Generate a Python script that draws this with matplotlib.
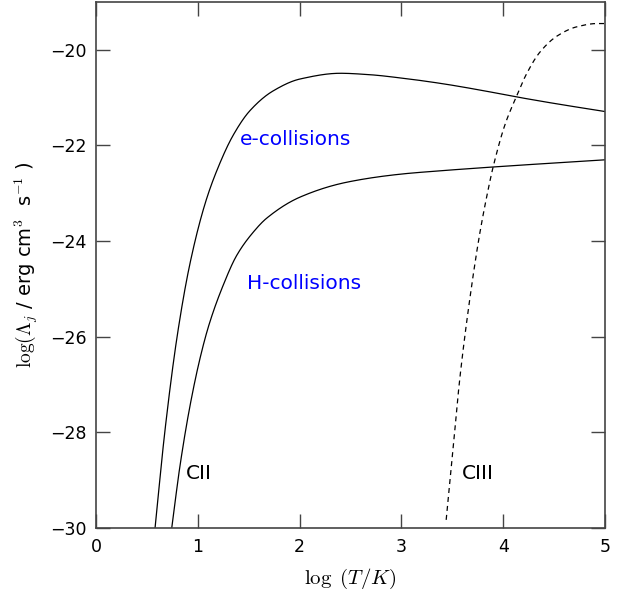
import matplotlib
matplotlib.use("Agg")
import matplotlib.pyplot as plt
import numpy as np

plt.rcParams['mathtext.fontset'] = 'cm'
plt.rcParams['font.family'] = ['DejaVu Sans']

# e-collisions (CII), solid
e_x = [0.58, 0.678, 0.80, 0.923, 1.071, 1.186, 1.349, 1.513, 1.739, 2.004, 2.40, 2.69, 3.0, 3.38, 3.77, 4.12, 4.5, 5.0]
e_y = [-30.0, -27.95, -25.95, -24.47, -23.22, -22.53, -21.78, -21.27, -20.86, -20.61, -20.49, -20.52, -20.59, -20.70, -20.84, -20.98, -21.12, -21.29]

# H-collisions (CII), solid
h_x = [0.744, 0.825, 0.923, 1.022, 1.11, 1.25, 1.382, 1.55, 1.677, 2.004, 2.46, 2.99, 3.38, 3.90, 5.0]
h_y = [-30.0, -28.7, -27.45, -26.45, -25.75, -24.92, -24.30, -23.80, -23.52, -23.08, -22.77, -22.60, -22.53, -22.45, -22.30]

# CIII, dashed
c3_x = [3.44, 3.51, 3.57, 3.67, 3.77, 3.84, 3.90, 4.02, 4.125, 4.23, 4.36, 4.53, 4.72, 4.92, 5.0]
c3_y = [-29.83, -28.3, -26.95, -25.24, -23.84, -23.05, -22.46, -21.55, -21.0, -20.5, -20.05, -19.71, -19.52, -19.45, -19.45]

x_ticks = [0, 1, 2, 3, 4, 5]
y_ticks = [-30, -28, -26, -24, -22, -20]


def pchip(x, y, n=2000):
    x = np.asarray(x, float); y = np.asarray(y, float)
    h = np.diff(x); d = np.diff(y) / h
    m = np.zeros_like(y)
    for k in range(1, len(x) - 1):
        if d[k - 1] * d[k] > 0:
            w1 = 2 * h[k] + h[k - 1]; w2 = h[k] + 2 * h[k - 1]
            m[k] = (w1 + w2) / (w1 / d[k - 1] + w2 / d[k])
    m[0] = d[0]; m[-1] = d[-1]
    xx = np.linspace(x[0], x[-1], n)
    idx = np.clip(np.searchsorted(x, xx) - 1, 0, len(x) - 2)
    t = (xx - x[idx]) / h[idx]
    h00 = 2 * t**3 - 3 * t**2 + 1; h10 = t**3 - 2 * t**2 + t
    h01 = -2 * t**3 + 3 * t**2; h11 = t**3 - t**2
    yy = h00 * y[idx] + h10 * h[idx] * m[idx] + h01 * y[idx + 1] + h11 * h[idx] * m[idx + 1]
    return xx, yy


fig = plt.figure(figsize=(6.21, 5.97), dpi=100)
ax = fig.add_axes([0.1546, 0.1156, 0.8196, 0.881])

for xs, ys, ls in [(e_x, e_y, '-'), (h_x, h_y, '-'), (c3_x, c3_y, (0, (4, 3.2)))]:
    sx, sy = pchip(xs, ys)
    ax.plot(sx, sy, color='black', lw=0.9, ls=ls)

ax.set_xlim(0, 5)
ax.set_ylim(-30, -19)
ax.set_xticks(x_ticks)
ax.set_yticks(y_ticks)
ax.tick_params(direction='in', length=10, width=1, top=True, right=True,
               labelsize=12.5, colors='black', pad=7)
for sp in ax.spines.values():
    sp.set_color('#444444')
    sp.set_linewidth(1.2)
ax.tick_params(axis='both', color='#444444')

ax.text(1.41, -21.87, 'e-collisions', color='blue', fontsize=14.5, va='center', ha='left')
ax.text(1.48, -24.88, 'H-collisions', color='blue', fontsize=14.5, va='center', ha='left')
ax.text(0.88, -28.87, 'CII', color='black', fontsize=14.5, va='center', ha='left')
ax.text(3.59, -28.87, 'CIII', color='black', fontsize=14.5, va='center', ha='left')

ax.set_xlabel(r'$\log\ (T/K)$', fontsize=15, labelpad=8)
ax.set_ylabel(r'$\log(\Lambda_j$ / erg cm$^3$  s$^{-1}$ )', fontsize=14, labelpad=7)

fig.savefig('out.png', dpi=100)
